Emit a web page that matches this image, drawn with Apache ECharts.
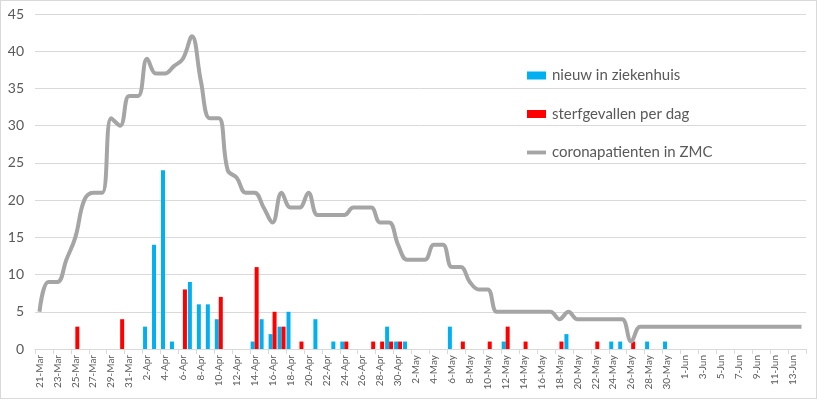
<!DOCTYPE html>
<html>
<head>
<meta charset="utf-8">
<script src="https://cdn.jsdelivr.net/npm/echarts@6/dist/echarts.min.js"></script>
<style>
  html, body { margin: 0; padding: 0; background: #fff; }
  #chart { width: 817px; height: 399px; box-sizing: border-box; border: 1px solid #d9d9d9; }
</style>
</head>
<body>
<div id="chart"></div>
<script>
// datums 21-Mar t/m 14-Jun
const dates = [
  '21-Mar','22-Mar','23-Mar','24-Mar','25-Mar','26-Mar','27-Mar','28-Mar','29-Mar','30-Mar','31-Mar',
  '1-Apr','2-Apr','3-Apr','4-Apr','5-Apr','6-Apr','7-Apr','8-Apr','9-Apr','10-Apr',
  '11-Apr','12-Apr','13-Apr','14-Apr','15-Apr','16-Apr','17-Apr','18-Apr','19-Apr','20-Apr',
  '21-Apr','22-Apr','23-Apr','24-Apr','25-Apr','26-Apr','27-Apr','28-Apr','29-Apr','30-Apr',
  '1-May','2-May','3-May','4-May','5-May','6-May','7-May','8-May','9-May','10-May',
  '11-May','12-May','13-May','14-May','15-May','16-May','17-May','18-May','19-May','20-May',
  '21-May','22-May','23-May','24-May','25-May','26-May','27-May','28-May','29-May','30-May','31-May',
  '1-Jun','2-Jun','3-Jun','4-Jun','5-Jun','6-Jun','7-Jun','8-Jun','9-Jun','10-Jun',
  '11-Jun','12-Jun','13-Jun','14-Jun'
];

// nieuw in ziekenhuis
const nieuw = [
  0,0,0,0,0,0,0,0,0,0,0,
  0,3,14,24,1,0,9,6,6,4,
  0,0,0,1,4,2,3,5,0,0,
  4,0,1,1,0,0,0,0,3,1,
  1,0,0,0,0,3,0,0,0,0,
  0,1,0,0,0,0,0,0,2,0,
  0,0,0,1,1,0,0,1,0,1,0,
  0,0,0,0,0,0,0,0,0,0,
  0,0,0,0
];

// sterfgevallen per dag
const sterf = [
  0,0,0,0,3,0,0,0,0,4,0,
  0,0,0,0,0,8,0,0,0,7,
  0,0,0,11,0,5,3,0,1,0,
  0,0,0,1,0,0,1,1,1,1,
  0,0,0,0,0,0,1,0,0,1,
  0,3,0,1,0,0,0,1,0,0,
  0,1,0,0,0,1,0,0,0,0,0,
  0,0,0,0,0,0,0,0,0,0,
  0,0,0,0
];

// coronapatienten in ZMC
const patienten = [
  5,9,9,12,15,20,21,21,31,30,34,
  34,39,37,37,38,39,42,36,31,31,
  24,23,21,21,19,17,21,19,19,21,
  18,18,18,18,19,19,19,17,17,14,
  12,12,12,14,14,11,11,9,8,8,
  5,5,5,5,5,5,5,4,5,4,
  4,4,4,4,4,1,3,3,3,3,3,
  3,3,3,3,3,3,3,3,3,3,
  3,3,3,3
];

const yTicks = { min: 0, max: 45, interval: 5 };

const chart = echarts.init(document.getElementById('chart'), null, { renderer: 'canvas' });

const textColor = '#595959';
const gridColor = '#d9d9d9';

chart.setOption({
  animation: false,
  textStyle: { fontFamily: 'Lato, "Open Sans", sans-serif' },
  grid: { left: 34, right: 10, top: 13, bottom: 49, containLabel: false },
  legend: {
    orient: 'vertical',
    left: 521,
    top: 62,
    itemWidth: 19,
    itemHeight: 8,
    itemGap: 23.5,
    textStyle: { color: textColor, fontSize: 15, fontFamily: 'Lato, sans-serif', padding: [0, 0, 0, 1] },
    data: [
      { name: 'nieuw in ziekenhuis', icon: 'rect' },
      { name: 'sterfgevallen per dag', icon: 'rect' },
      { name: 'coronapatienten in ZMC', icon: 'path://M0,0H20V4H0Z' }
    ]
  },
  xAxis: {
    type: 'category',
    data: dates,
    boundaryGap: true,
    axisLine: { lineStyle: { color: gridColor, width: 1 } },
    axisTick: { show: true, interval: 1, length: 5, lineStyle: { color: gridColor } },
    axisLabel: { interval: 1, rotate: 90, color: textColor, fontSize: 10, margin: 6 },
    splitLine: { show: false }
  },
  yAxis: {
    type: 'value',
    min: yTicks.min,
    max: yTicks.max,
    interval: yTicks.interval,
    axisLine: { show: false },
    axisTick: { show: false },
    axisLabel: { color: textColor, fontSize: 14, margin: 11 },
    splitLine: { lineStyle: { color: gridColor, width: 1 } }
  },
  series: [
    {
      name: 'nieuw in ziekenhuis',
      type: 'bar',
      data: nieuw,
      barWidth: 4,
      barGap: '0%',
      itemStyle: { color: '#00b0f0' }
    },
    {
      name: 'sterfgevallen per dag',
      type: 'bar',
      data: sterf,
      barWidth: 4,
      barGap: '0%',
      itemStyle: { color: '#ff0000' }
    },
    {
      name: 'coronapatienten in ZMC',
      type: 'line',
      data: patienten,
      smooth: 0.4,
      symbol: 'none',
      lineStyle: { color: '#a5a5a5', width: 4 },
      itemStyle: { color: '#a5a5a5' },
      z: 3
    }
  ]
});
</script>
</body>
</html>
